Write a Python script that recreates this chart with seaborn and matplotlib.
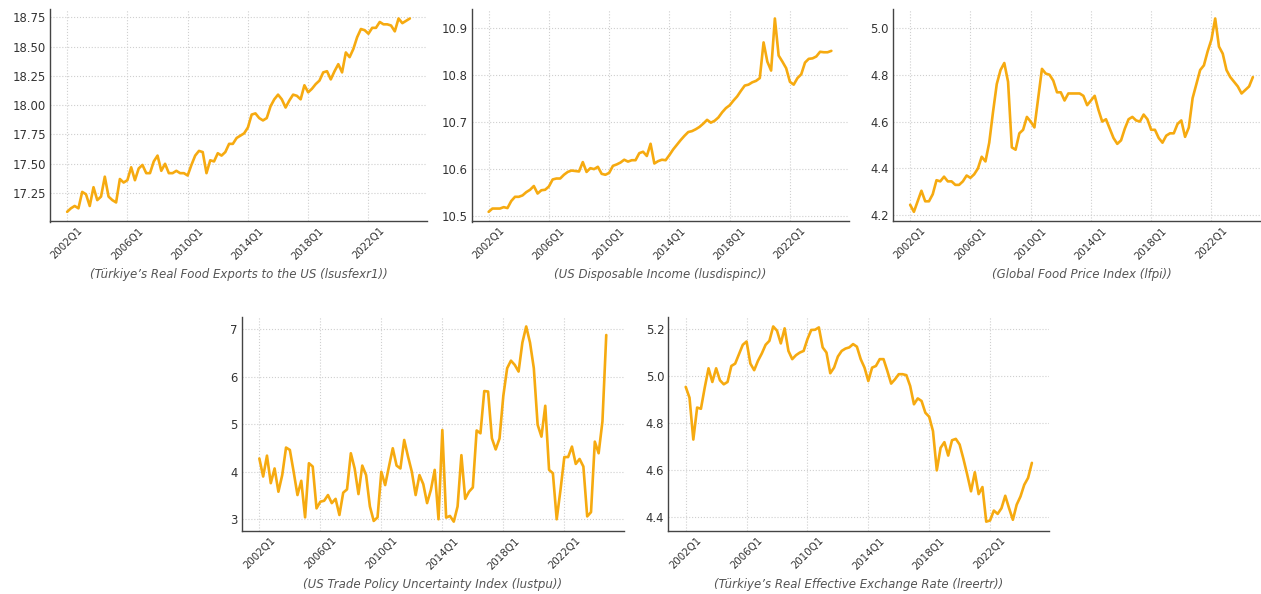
import numpy as np
import pandas as pd
import matplotlib
matplotlib.use("Agg")
import matplotlib.pyplot as plt
import seaborn as sns

# quarterly periods 2002Q1 .. 2024Q4
periods = [f"{y}Q{q}" for y in range(2002, 2025) for q in range(1, 5)]
tick_labels = ["2002Q1", "2006Q1", "2010Q1", "2014Q1", "2018Q1", "2022Q1"]

lsusfexr1 = [
    17.09, 17.12, 17.14, 17.12, 17.26, 17.24, 17.14, 17.30, 17.19, 17.22,
    17.39, 17.22, 17.19, 17.17, 17.37, 17.34, 17.36, 17.47, 17.36, 17.46,
    17.49, 17.42, 17.42, 17.52, 17.57, 17.44, 17.50, 17.42, 17.42, 17.44,
    17.42, 17.42, 17.40, 17.49, 17.57, 17.61, 17.60, 17.42, 17.53, 17.52,
    17.59, 17.57, 17.60, 17.67, 17.67, 17.72, 17.74, 17.76, 17.81, 17.92,
    17.93, 17.89, 17.87, 17.89, 17.99, 18.05, 18.09, 18.05, 17.98, 18.04,
    18.09, 18.08, 18.05, 18.17, 18.11, 18.14, 18.18, 18.21, 18.28, 18.29,
    18.22, 18.29, 18.35, 18.28, 18.45, 18.41, 18.48, 18.58, 18.65, 18.64,
    18.61, 18.66, 18.66, 18.71, 18.69, 18.69, 18.68, 18.63, 18.74, 18.70,
    18.72, 18.74,
]

lusdispinc = [
    10.509, 10.516, 10.516, 10.516, 10.519, 10.517, 10.532, 10.541, 10.541, 10.544,
    10.551, 10.556, 10.564, 10.548, 10.555, 10.556, 10.563, 10.578, 10.580, 10.580,
    10.588, 10.594, 10.597, 10.596, 10.595, 10.615, 10.594, 10.602, 10.600, 10.605,
    10.590, 10.588, 10.592, 10.607, 10.610, 10.614, 10.620, 10.616, 10.619, 10.619,
    10.634, 10.637, 10.628, 10.654, 10.612, 10.617, 10.620, 10.619, 10.630, 10.642,
    10.652, 10.662, 10.671, 10.679, 10.681, 10.685, 10.690, 10.697, 10.705, 10.699,
    10.703, 10.710, 10.721, 10.730, 10.736, 10.746, 10.755, 10.767, 10.778, 10.780,
    10.785, 10.788, 10.794, 10.870, 10.829, 10.810, 10.921, 10.842, 10.829, 10.815,
    10.786, 10.780, 10.794, 10.802, 10.827, 10.835, 10.836, 10.840, 10.850, 10.849,
    10.849, 10.852,
]

lfpi = [
    4.245, 4.215, 4.26, 4.305, 4.26, 4.26, 4.29, 4.35, 4.345, 4.365,
    4.345, 4.345, 4.33, 4.33, 4.345, 4.37, 4.36, 4.375, 4.40, 4.45,
    4.43, 4.51, 4.64, 4.76, 4.82, 4.85, 4.77, 4.49, 4.48, 4.55,
    4.565, 4.62, 4.60, 4.575, 4.70, 4.825, 4.805, 4.80, 4.775, 4.725,
    4.725, 4.69, 4.72, 4.72, 4.72, 4.72, 4.71, 4.67, 4.69, 4.71,
    4.65, 4.60, 4.61, 4.57, 4.53, 4.505, 4.52, 4.57, 4.61, 4.62,
    4.605, 4.60, 4.63, 4.61, 4.565, 4.565, 4.53, 4.51, 4.54, 4.55,
    4.55, 4.59, 4.605, 4.535, 4.575, 4.70, 4.76, 4.82, 4.84, 4.90,
    4.95, 5.04, 4.92, 4.89, 4.82, 4.79, 4.77, 4.75, 4.72, 4.735,
    4.75, 4.79,
]

lustpu = [
    4.28, 3.90, 4.34, 3.76, 4.07, 3.58, 3.93, 4.51, 4.46, 4.00,
    3.51, 3.81, 3.04, 4.18, 4.11, 3.23, 3.37, 3.39, 3.51, 3.34,
    3.43, 3.09, 3.56, 3.63, 4.39, 4.07, 3.53, 4.13, 3.93, 3.27,
    2.965, 3.04, 4.00, 3.72, 4.11, 4.495, 4.13, 4.07, 4.67, 4.32,
    4.00, 3.51, 3.93, 3.74, 3.34, 3.62, 4.04, 3.00, 4.88, 3.035,
    3.07, 2.95, 3.27, 4.35, 3.43, 3.58, 3.67, 4.87, 4.81, 5.70,
    5.69, 4.705, 4.47, 4.70, 5.60, 6.18, 6.34, 6.25, 6.11, 6.72,
    7.06, 6.72, 6.18, 4.99, 4.74, 5.39, 4.04, 3.97, 3.00, 3.62,
    4.31, 4.31, 4.53, 4.165, 4.27, 4.11, 3.06, 3.15, 4.635, 4.39,
    5.06, 6.88,
]

lreertr = [
    4.954, 4.908, 4.730, 4.866, 4.861, 4.951, 5.033, 4.975, 5.033, 4.982,
    4.965, 4.975, 5.043, 5.053, 5.093, 5.133, 5.147, 5.053, 5.025, 5.065,
    5.096, 5.133, 5.150, 5.211, 5.193, 5.139, 5.203, 5.107, 5.072, 5.089,
    5.100, 5.107, 5.157, 5.196, 5.197, 5.207, 5.122, 5.100, 5.012, 5.036,
    5.083, 5.107, 5.117, 5.122, 5.136, 5.125, 5.072, 5.036, 4.979, 5.036,
    5.043, 5.072, 5.072, 5.022, 4.968, 4.986, 5.008, 5.008, 5.004, 4.958,
    4.880, 4.905, 4.894, 4.844, 4.827, 4.766, 4.599, 4.695, 4.719, 4.662,
    4.727, 4.733, 4.709, 4.648, 4.581, 4.510, 4.591, 4.498, 4.528, 4.381,
    4.386, 4.428, 4.414, 4.438, 4.491, 4.438, 4.389, 4.453, 4.488, 4.538,
    4.567, 4.631,
]

captions = [
    "(Türkiye’s Real Food Exports to the US (lsusfexr1))",
    "(US Disposable Income (lusdispinc))",
    "(Global Food Price Index (lfpi))",
    "(US Trade Policy Uncertainty Index (lustpu))",
    "(Türkiye’s Real Effective Exchange Rate (lreertr))",
]
series = [lsusfexr1, lusdispinc, lfpi, lustpu, lreertr]
yticks = [
    [17.25, 17.50, 17.75, 18.00, 18.25, 18.50, 18.75],
    [10.5, 10.6, 10.7, 10.8, 10.9],
    [4.2, 4.4, 4.6, 4.8, 5.0],
    [3, 4, 5, 6, 7],
    [4.4, 4.6, 4.8, 5.0, 5.2],
]
yfmt = ["{:.2f}", "{:.1f}", "{:.1f}", "{:.0f}", "{:.1f}"]

sns.set_style("white")
plt.rcParams['font.family'] = ['DejaVu Sans']

fig = plt.figure(figsize=(12.61, 5.94), dpi=100)
W, H = 1261, 594
# axes boxes in pixels: left, top, width, height
boxes = [
    (50, 8.8, 377, 212.7),
    (471.5, 8.8, 377, 212.7),
    (893, 8.8, 377, 212.7),
    (242, 316.7, 381.6, 214.7),
    (668.4, 316.7, 380.8, 214.7),
]

line_color = "#F6AA10"
tick_pos = [periods.index(t) for t in tick_labels]

for vals, cap, yt, fmt, (l, t, w, h) in zip(series, captions, yticks, yfmt, boxes):
    ax = fig.add_axes([l / W, 1 - (t + h) / H, w / W, h / H])
    df = pd.DataFrame({"idx": np.arange(len(vals)), "value": vals})
    sns.lineplot(data=df, x="idx", y="value", ax=ax, color=line_color, linewidth=1.9)
    ax.set_xticks(tick_pos)
    ax.set_xticklabels(tick_labels, rotation=45, fontsize=7.4, color="#333333")
    ax.set_yticks(yt)
    ax.set_yticklabels([fmt.format(v) for v in yt], fontsize=8.4, color="#333333")
    ax.tick_params(length=0, pad=3)
    ax.set_ylabel("")
    ax.set_xlabel(cap, fontsize=8.5, style="italic", color="#555555", labelpad=5)
    ax.grid(True, linestyle=":", color="#cfcfcf", linewidth=0.8)
    for s in ["top", "right"]:
        ax.spines[s].set_visible(False)
    for s in ["left", "bottom"]:
        ax.spines[s].set_color("#444444")
        ax.spines[s].set_linewidth(1.0)

fig.savefig("out.png", dpi=100)
